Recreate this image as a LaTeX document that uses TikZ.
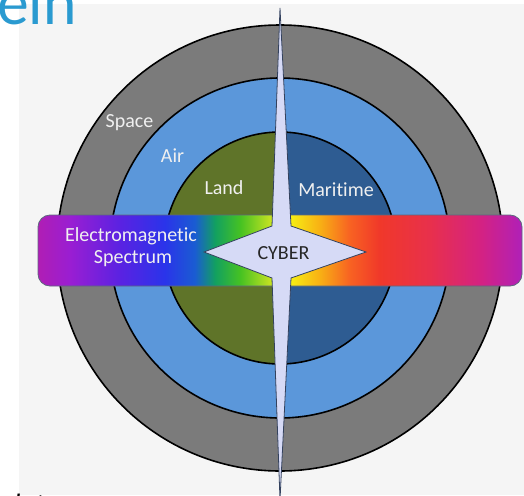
\documentclass[tikz,border=0pt]{standalone}
\usepackage{fontspec}
\newfontfamily\labfont[Ligatures=NoCommon]{Carlito}
\newfontfamily\titlefont{Lato}
\definecolor{panel}{HTML}{F5F5F5}
\definecolor{titleblue}{HTML}{2A9AD0}
\definecolor{spacegrey}{HTML}{7B7B7B}
\definecolor{airblue}{HTML}{5B97DA}
\definecolor{landgreen}{HTML}{5F7429}
\definecolor{seablue}{HTML}{2E5C92}
\definecolor{cyberfill}{HTML}{D6DAF6}
\definecolor{edgedark}{HTML}{34425E}
\definecolor{sA}{HTML}{B01EB4}
\definecolor{sB}{HTML}{9A1ED2}
\definecolor{sC}{HTML}{5A22E2}
\definecolor{sD}{HTML}{2A34EA}
\definecolor{sE}{HTML}{1A5CD2}
\definecolor{sF}{HTML}{12A060}
\definecolor{sG}{HTML}{46C222}
\definecolor{sH}{HTML}{C4E222}
\definecolor{sI}{HTML}{F6F014}
\definecolor{sJ}{HTML}{F8B014}
\definecolor{sK}{HTML}{F86222}
\definecolor{sL}{HTML}{F0382A}
\definecolor{sM}{HTML}{E8304C}
\definecolor{sN}{HTML}{D42282}
\definecolor{sO}{HTML}{B020B8}
\pgfdeclarehorizontalshading{emspec}{100bp}{color(0bp)=(sA); color(25bp)=(sA); color(28.3bp)=(sB); color(33.5bp)=(sC); color(38.1bp)=(sD); color(41.2bp)=(sE); color(43.3bp)=(sF); color(45.9bp)=(sG); color(49bp)=(sH); color(51bp)=(sI); color(54.1bp)=(sJ); color(57.2bp)=(sK); color(60.3bp)=(sL); color(65.5bp)=(sM); color(70.7bp)=(sN); color(75bp)=(sO); color(100bp)=(sO)}
\tikzset{
  ring/.style={draw=black, line width=1.6pt},
  lab/.style={font=\labfont\fontsize{20}{22}\selectfont, text=white!94!black, anchor=base, inner sep=0pt},
  cyberlab/.style={font=\labfont\fontsize{20}{22}\selectfont, text=black!85, anchor=base, inner sep=0pt}
}
\begin{document}
\begin{tikzpicture}[x=1pt,y=-1pt]
\useasboundingbox (0,0) rectangle (524,495);
\fill[white] (0,0) rectangle (524,495);
\fill[panel] (19,4) rectangle (524,495);
% title and cut text
\node[font=\titlefont\fontsize{60}{60}\selectfont, text=titleblue, anchor=base west, inner sep=0pt] (title) at (-3,25) {ein};
\node[font=\labfont\itshape\fontsize{28}{30}\selectfont, text=black, anchor=base west, inner sep=0pt] (cut) at (14,513) {lat};
% circles
\coordinate (c) at (280,248);
\fill[spacegrey] (c) circle[radius=223];
\draw[ring] (c) circle[radius=223];
\fill[airblue] (c) circle[radius=170];
\draw[ring] (c) circle[radius=170];
\fill[seablue] (c) circle[radius=116];
\begin{scope}
\clip (0,0) rectangle (280,495);
\fill[landgreen] (c) circle[radius=116];
\end{scope}
\draw[ring] (c) circle[radius=116];
% spectrum bar
\shade[shading=emspec, rounded corners=12pt] (38,215) rectangle (522,286);
\draw[edgedark!80, line width=0.8pt, rounded corners=12pt] (38,215) rectangle (522,286);
% cyber star
\filldraw[fill=cyberfill, draw=edgedark, line width=0.8pt]
  (280,8) -- (291,226) -- (366,252) -- (291,278) -- (280,500) -- (272,278) -- (204,252) -- (272,226) -- cycle;
% labels
\node[lab] (space) at (129.5,127) {Space};
\node[lab] (air) at (172.5,162) {Air};
\node[lab] (land) at (224,194) {Land};
\node[lab] (maritime) at (336,196) {Maritime};
\node[lab] (em) at (131,241) {Electromagnetic};
\node[lab] (spec) at (133,263) {Spectrum};
\node[cyberlab] (cyber) at (283.5,259) {CYBER};
\end{tikzpicture}
\end{document}
